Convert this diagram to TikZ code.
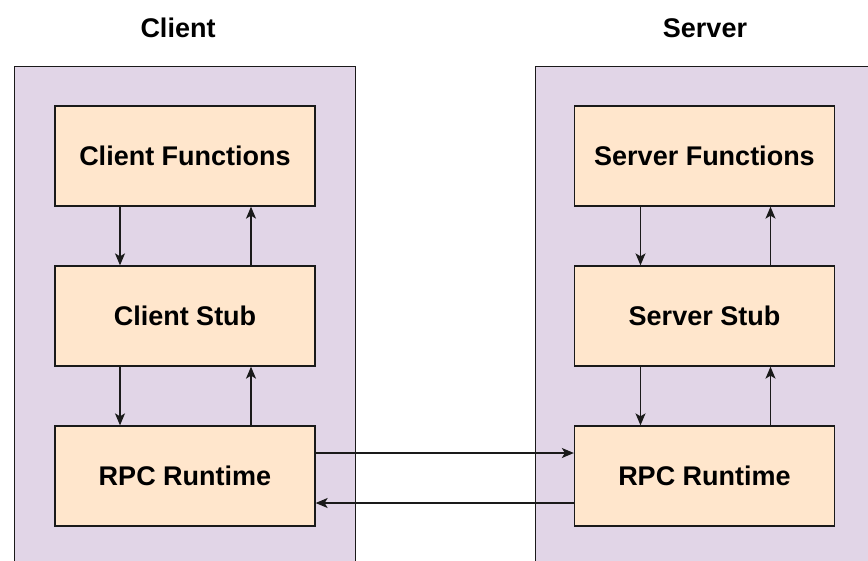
\documentclass[tikz,border=0pt]{standalone}
\usepackage{fontspec}
\setmainfont{Liberation Sans}
\usetikzlibrary{arrows.meta}
\definecolor{contfill}{HTML}{E1D5E7}
\definecolor{boxfill}{HTML}{FFE6CC}
\definecolor{edge}{HTML}{1A1A1A}
\tikzset{
  container/.style={draw=edge, fill=contfill, line width=1.3pt, anchor=north west, inner sep=0pt},
  block/.style={draw=edge, fill=boxfill, line width=1.3pt, minimum width=260pt, minimum height=100pt, inner sep=0pt, font=\fontsize{27}{32}\selectfont\bfseries},
  title/.style={font=\fontsize{27}{32}\selectfont\bfseries, inner sep=0pt},
  conn/.style={draw=edge, line width=1.3pt, -{Stealth[length=12pt,width=10pt,inset=3pt]}}
}
\begin{document}
\begin{tikzpicture}[x=1pt,y=-1pt]
\useasboundingbox (0,0) rectangle (868,560);
\clip (0,0) rectangle (868,560);
\fill[white] (0,0) rectangle (868,560);
\node[container, minimum width=341pt, minimum height=530pt] (cc) at (14,66) {};
\node[container, minimum width=380pt, minimum height=530pt] (sc) at (535,66) {};
\node[title] (ct) at (178,28) {Client};
\node[title] (st) at (705,28) {Server};
\node[block] (cf) at (185,156) {Client Functions};
\node[block] (cs) at (185,316) {Client Stub};
\node[block] (cr) at (185,476) {RPC Runtime};
\node[block] (sf) at (704.5,156) {Server Functions};
\node[block] (ss) at (704.5,316) {Server Stub};
\node[block] (sr) at (704.5,476) {RPC Runtime};
\draw[conn] ([xshift=-65pt]cf.south) -- ([xshift=-65pt]cs.north);
\draw[conn] ([xshift=66pt]cs.north) -- ([xshift=66pt]cf.south);
\draw[conn] ([xshift=-65pt]cs.south) -- ([xshift=-65pt]cr.north);
\draw[conn] ([xshift=66pt]cr.north) -- ([xshift=66pt]cs.south);
\draw[conn] ([xshift=-64pt]sf.south) -- ([xshift=-64pt]ss.north);
\draw[conn] ([xshift=66pt]ss.north) -- ([xshift=66pt]sf.south);
\draw[conn] ([xshift=-64pt]ss.south) -- ([xshift=-64pt]sr.north);
\draw[conn] ([xshift=66pt]sr.north) -- ([xshift=66pt]ss.south);
\draw[conn] ([yshift=23pt]cr.east) -- ([yshift=23pt]sr.west);
\draw[conn] ([yshift=-27pt]sr.west) -- ([yshift=-27pt]cr.east);
\end{tikzpicture}
\end{document}
